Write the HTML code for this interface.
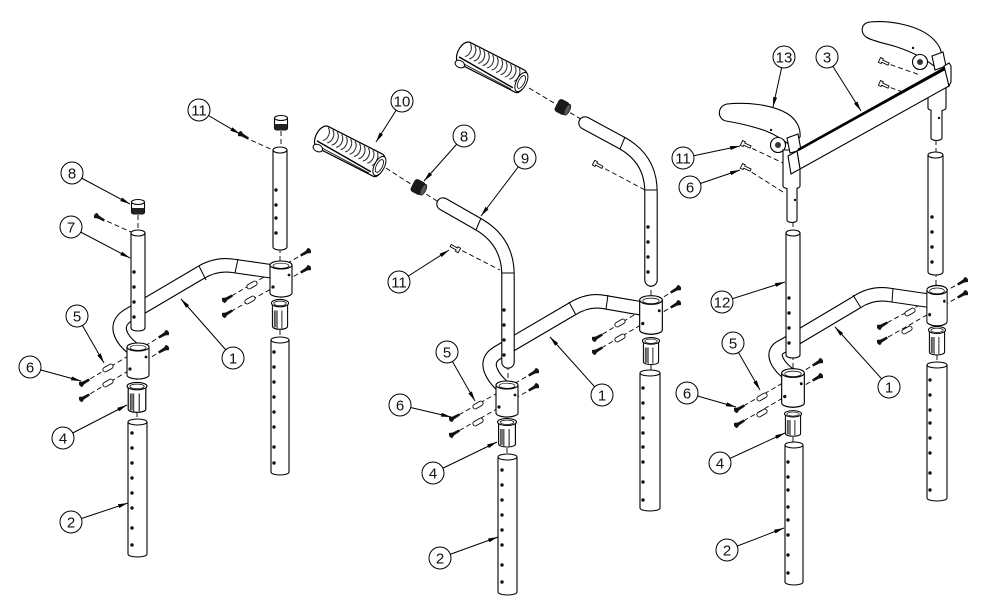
<!DOCTYPE html>
<html><head><meta charset="utf-8"><style>
html,body{margin:0;padding:0;background:#fff;}
svg{display:block;}
text{font-family:"Liberation Sans",sans-serif;font-size:15px;text-anchor:middle;fill:#111;}
.t{fill:#fff;stroke:#000;stroke-width:1.1;}
.d{fill:none;stroke:#000;stroke-width:0.9;stroke-dasharray:5,3;}
.l{fill:none;stroke:#000;stroke-width:1;marker-end:url(#ah);}
.c{fill:#fff;stroke:#000;stroke-width:1;}
.h{fill:#111;}
</style></head><body>
<svg width="1000" height="615" viewBox="0 0 1000 615" xmlns="http://www.w3.org/2000/svg">
<defs>
<marker id="ah" viewBox="0 0 10 4" refX="10" refY="2" markerWidth="10" markerHeight="4" orient="auto" markerUnits="userSpaceOnUse"><path d="M0,0L10,2L0,4z"/></marker>
<g id="grip">
 <path d="M-30,-12 L30,-12 C39,-12 40,12 32,12 L-30,12 C-40,12 -40,-12 -30,-12Z" fill="#fff" stroke="#000" stroke-width="1.2"/>
 <g fill="none" stroke="#333" stroke-width="1.1">
  <path d="M-30,-11 C-25,-8 -25,0 -29,3"/><path d="M-25,-11 C-20,-8 -20,0 -24,3"/>
  <path d="M-20,-11 C-15,-8 -15,0 -19,3"/><path d="M-15,-11 C-10,-8 -10,0 -14,3"/>
  <path d="M-10,-11 C-5,-8 -5,0 -9,3"/><path d="M-5,-11 C0,-8 0,0 -4,3"/>
  <path d="M0,-11 C5,-8 5,0 1,3"/><path d="M5,-11 C10,-8 10,0 6,3"/>
  <path d="M10,-11 C15,-8 15,0 11,3"/><path d="M15,-11 C20,-8 20,0 16,3"/>
  <path d="M20,-11 C25,-8 25,0 21,3"/><path d="M25,-11 C29,-8 29,0 26,3"/>
 </g>
 <path d="M-34,6 L28,9" stroke="#000" stroke-width="1.4"/>
 <path d="M-30,10 L27,11" stroke="#000" stroke-width="0.8"/>
 <ellipse cx="33" cy="0" rx="5" ry="10.5" fill="#fff" stroke="#000"/>
 <ellipse cx="33" cy="0" rx="3" ry="7" fill="none" stroke="#000" stroke-width="0.8"/>
 <ellipse cx="-30" cy="12" rx="5" ry="3.5" fill="#fff" stroke="#000"/>
</g>
<g id="nut"><rect x="-6" y="-7" width="12" height="14" rx="3" fill="#1a1a1a"/><ellipse cx="6" cy="0" rx="2.5" ry="6" fill="#555" stroke="#000" stroke-width="0.6"/></g>
<g id="sock">
 <path d="M-11,0 V28 A11,4 0 0 0 11,28 V0" class="t"/>
 <ellipse cx="0" cy="0" rx="11" ry="4" class="t"/>
 <ellipse cx="0" cy="0.8" rx="8" ry="2.6" fill="none" stroke="#000" stroke-width="0.7"/>
 <circle cx="-8" cy="22" r="1.6" class="h"/><circle cx="8" cy="10" r="1.4" class="h"/>
</g>
<g id="ins">
 <path d="M-8,3 V24 A8,3 0 0 0 8,24 V3" class="t"/>
 <ellipse cx="0" cy="2" rx="9" ry="3.5" class="t"/>
 <ellipse cx="0" cy="2.3" rx="6.5" ry="2.2" fill="none" stroke="#000" stroke-width="0.7"/>
 <path d="M-6,9 V25 M-3,9 V26 M2,9 V26" stroke="#000" stroke-width="0.9"/>
 <rect x="-6" y="9" width="3" height="16" fill="#777"/>
</g>
<g id="cap">
 <rect x="-6.5" y="-6" width="13" height="12" rx="2" class="t"/>
 <ellipse cx="0" cy="-6" rx="6.5" ry="2.5" class="t"/>
 <path d="M-6.5,0 V4 A6.5,2.5 0 0 0 6.5,4 V0 Z" fill="#222"/>
</g>
<g id="scr"><path d="M-5,-3 C-7,-1 -7,1 -5,3 L-2,1.6 L5,1.2 L5,-1.2 L-2,-1.6 Z" fill="#111"/></g>
<g id="wscr"><path d="M-5,-2.6 L-2,-2.6 L-2,-1.2 L5,-1.2 L5,1.2 L-2,1.2 L-2,2.6 L-5,2.6 Z" fill="#fff" stroke="#000" stroke-width="0.9"/></g>
<g id="pin"><rect x="-5.5" y="-2.3" width="11" height="4.6" rx="2.2" fill="#fff" stroke="#000" stroke-width="0.9"/></g>
</defs>

<g class="d">
<path d="M244,137 L275,151 M100,218 L131,232 M281,131 V148 M280,248 V262 M281,293 V300 M280,330 V338 M138,215 V231 M137,375 V383 M137,412 V420"/>
<path d="M163,335 L85,382 M163,350 L85,397 M305,253 L228,298 M305,270 L228,313"/>
<path d="M386,168 L440,203 M455,247 L500,270 M529,88 L584,121 M598,165 L645,190 M651,282 V298 M507,413 V420 M507,448 V455 M651,330 V338 M651,365 V371 M508,365 V383"/>
<path d="M533,373 L455,417 M533,388 L455,433 M675,290 L598,337 M675,305 L598,350"/>
<path d="M745,145 L783,163 M745,168 L783,192 M883,62 L920,75 M883,85 L926,100 M793,222 V231 M936,140 V152 M793,355 V371 M936,272 V288 M793,403 V411 M793,437 V443 M937,322 V327 M937,355 V363"/>
<path d="M817,363 L740,408 M817,378 L740,423 M962,282 L883,325 M962,295 L883,340"/>
</g>

<g fill="none" stroke-linecap="round" stroke-linejoin="round">
<path d="M138,352 C122,342 112,326 127,316 L200,273 Q216,263 234,266 L276,272" stroke="#000" stroke-width="14.5"/>
<path d="M138,352 C122,342 112,326 127,316 L200,273 Q216,263 234,266 L276,272" stroke="#fff" stroke-width="12.3"/>
<path d="M507,390 C492,378 482,362 497,353 L572,309 Q588,299 604,302 L645,309" stroke="#000" stroke-width="14.5"/>
<path d="M507,390 C492,378 482,362 497,353 L572,309 Q588,299 604,302 L645,309" stroke="#fff" stroke-width="12.3"/>
<path d="M793,377 C778,367 768,352 783,346 L857,302 Q872,292 890,295 L931,301" stroke="#000" stroke-width="14.5"/>
<path d="M793,377 C778,367 768,352 783,346 L857,302 Q872,292 890,295 L931,301" stroke="#fff" stroke-width="12.3"/>
<path d="M443,204 L478,224 Q508,241 508,275 L508,362" stroke="#000" stroke-width="13.5"/>
<path d="M443,204 L478,224 Q508,241 508,275 L508,362" stroke="#fff" stroke-width="11.3"/>
<path d="M585,123 L622,143 Q651,159 651,192 L651,280" stroke="#000" stroke-width="13.5"/>
<path d="M585,123 L622,143 Q651,159 651,192 L651,280" stroke="#fff" stroke-width="11.3"/>
</g>
<g stroke="#000" stroke-width="1">
<path d="M199,266 L206,280 M238,259 L235,273"/>
<path d="M569,302 L576,315 M608,295 L606,309"/>
<path d="M853,295 L861,308 M893,288 L892,302"/>
<path d="M481,218 L476,230 M502,273 L514,273"/>
<path d="M625,137 L620,149 M645,190 L657,190"/>
</g>

<path d="M273,150 V247 A7,3 0 0 0 287,247 V150" class="t"/><ellipse cx="280" cy="150" rx="7" ry="3" class="t"/>
<path d="M131,233 V328 A7,3 0 0 0 145,328 V233" class="t"/><ellipse cx="138" cy="233" rx="7" ry="3" class="t"/>
<path d="M128,422 V554 A9.5,3 0 0 0 147,554 V422" class="t"/><ellipse cx="137.5" cy="422" rx="9.5" ry="3" class="t"/>
<path d="M271,340 V472 A9,3 0 0 0 289,472 V340" class="t"/><ellipse cx="280" cy="340" rx="9" ry="3" class="t"/>
<path d="M498,457 V592 A9.5,3 0 0 0 517,592 V457" class="t"/><ellipse cx="507.5" cy="457" rx="9.5" ry="3" class="t"/>
<path d="M640,373 V508 A10,3 0 0 0 660,508 V373" class="t"/><ellipse cx="650" cy="373" rx="10" ry="3" class="t"/>
<path d="M786,233 V355 A7,3 0 0 0 800,355 V233" class="t"/><ellipse cx="793" cy="233" rx="7" ry="3" class="t"/>
<path d="M928,155 V272 A7.5,3 0 0 0 943,272 V155" class="t"/><ellipse cx="935.5" cy="155" rx="7.5" ry="3" class="t"/>
<path d="M785,445 V582 A9,3 0 0 0 803,582 V445" class="t"/><ellipse cx="794" cy="445" rx="9" ry="3" class="t"/>
<path d="M927,365 V498 A10,3 0 0 0 947,498 V365" class="t"/><ellipse cx="937" cy="365" rx="10" ry="3" class="t"/>

<g class="h">
<circle cx="276" cy="190" r="1.7"/><circle cx="276" cy="205" r="1.7"/><circle cx="276" cy="218" r="1.7"/><circle cx="276" cy="233" r="1.7"/>
<circle cx="134" cy="272" r="1.7"/><circle cx="134" cy="287" r="1.7"/><circle cx="134" cy="302" r="1.7"/><circle cx="134" cy="317" r="1.7"/>
<circle cx="132" cy="433" r="1.7"/><circle cx="132" cy="448" r="1.7"/><circle cx="132" cy="463" r="1.7"/><circle cx="132" cy="478" r="1.7"/><circle cx="132" cy="493" r="1.7"/><circle cx="132" cy="508" r="1.7"/><circle cx="132" cy="528" r="1.7"/><circle cx="132" cy="545" r="1.7"/>
<circle cx="274" cy="352" r="1.7"/><circle cx="274" cy="367" r="1.7"/><circle cx="274" cy="382" r="1.7"/><circle cx="274" cy="397" r="1.7"/><circle cx="274" cy="412" r="1.7"/><circle cx="274" cy="427" r="1.7"/><circle cx="274" cy="447" r="1.7"/><circle cx="274" cy="463" r="1.7"/>
<circle cx="504" cy="310" r="1.7"/><circle cx="504" cy="325" r="1.7"/><circle cx="504" cy="340" r="1.7"/><circle cx="504" cy="355" r="1.7"/>
<circle cx="502" cy="470" r="1.7"/><circle cx="502" cy="485" r="1.7"/><circle cx="502" cy="500" r="1.7"/><circle cx="502" cy="515" r="1.7"/><circle cx="502" cy="530" r="1.7"/><circle cx="502" cy="545" r="1.7"/><circle cx="502" cy="565" r="1.7"/><circle cx="502" cy="582" r="1.7"/>
<circle cx="643" cy="388" r="1.7"/><circle cx="643" cy="403" r="1.7"/><circle cx="643" cy="418" r="1.7"/><circle cx="643" cy="433" r="1.7"/><circle cx="643" cy="447" r="1.7"/><circle cx="643" cy="462" r="1.7"/><circle cx="643" cy="482" r="1.7"/><circle cx="643" cy="500" r="1.7"/>
<circle cx="648" cy="227" r="1.7"/><circle cx="648" cy="242" r="1.7"/><circle cx="648" cy="257" r="1.7"/><circle cx="648" cy="272" r="1.7"/>
<circle cx="789" cy="298" r="1.7"/><circle cx="789" cy="313" r="1.7"/><circle cx="789" cy="328" r="1.7"/><circle cx="789" cy="343" r="1.7"/>
<circle cx="932" cy="217" r="1.7"/><circle cx="932" cy="232" r="1.7"/><circle cx="932" cy="247" r="1.7"/><circle cx="932" cy="262" r="1.7"/>
<circle cx="788" cy="462" r="1.7"/><circle cx="788" cy="477" r="1.7"/><circle cx="788" cy="490" r="1.7"/><circle cx="788" cy="507" r="1.7"/><circle cx="788" cy="520" r="1.7"/><circle cx="788" cy="535" r="1.7"/><circle cx="788" cy="555" r="1.7"/><circle cx="788" cy="573" r="1.7"/>
<circle cx="930" cy="380" r="1.7"/><circle cx="930" cy="395" r="1.7"/><circle cx="930" cy="410" r="1.7"/><circle cx="930" cy="423" r="1.7"/><circle cx="930" cy="438" r="1.7"/><circle cx="930" cy="453" r="1.7"/><circle cx="930" cy="473" r="1.7"/><circle cx="930" cy="490" r="1.7"/>
</g>

<use href="#sock" transform="translate(138,347)"/>
<use href="#sock" transform="translate(281,265)"/>
<use href="#sock" transform="translate(507,385)"/>
<use href="#sock" transform="translate(651,300) scale(1.03,1.07)"/>
<use href="#sock" transform="translate(793,373) scale(1.03,1.07)"/>
<use href="#sock" transform="translate(937,290) scale(0.92,1.12)"/>
<use href="#ins" transform="translate(137,384) scale(1.1,1.05)"/>
<use href="#ins" transform="translate(280,301) scale(0.95,1.05)"/>
<use href="#ins" transform="translate(507,420) scale(1.05,1)"/>
<use href="#ins" transform="translate(651,339) scale(0.95,0.95)"/>
<use href="#ins" transform="translate(793,412) scale(0.95,0.9)"/>
<use href="#ins" transform="translate(937,328) scale(0.95,1)"/>

<use href="#cap" transform="translate(281,124)"/>
<use href="#cap" transform="translate(138,208)"/>

<use href="#grip" transform="translate(350,151) rotate(27)"/>
<use href="#grip" transform="translate(492,67) rotate(27)"/>
<use href="#nut" transform="translate(418,187) rotate(27)"/>
<use href="#nut" transform="translate(562,107) rotate(27)"/>

<path d="M870,22 C892,20 918,26 931,37 C939,44 943,52 941,58 L934,66 C924,58 912,52 897,47 C884,43 872,41 866,37 C860,32 861,23 870,22 Z" class="t"/>
<circle cx="920" cy="62" r="7.5" class="t"/><circle cx="920" cy="62" r="3" fill="#333"/><circle cx="913" cy="48" r="1.2" class="h"/>
<path d="M928,88 V108 A9,3 0 0 0 946,108 V88 Z" class="t"/>
<path d="M931,110 V138 A5.5,2.5 0 0 0 942,138 V110" class="t"/><circle cx="939" cy="118" r="1.2" class="h"/>
<path d="M727,104 C745,102 772,104 788,114 C797,120 801,129 800,137 L792,147 C784,140 776,135 766,131 C752,126 738,123 726,121 C717,119 717,106 727,104 Z" class="t"/>
<circle cx="778" cy="145" r="7.5" class="t"/><circle cx="778" cy="145" r="3" fill="#333"/><circle cx="771" cy="130" r="1.2" class="h"/>
<path d="M783,150 V186 A8.5,3 0 0 0 800,186 V150 Z" class="t"/>
<path d="M787,188 V220 A5,2.5 0 0 0 797,220 V188" class="t"/><circle cx="795" cy="200" r="1.2" class="h"/>
<polygon points="787,138 798,134 801,150 790,153" class="t"/>
<polygon points="932,56 943,52 946,66 935,70" class="t"/>
<polygon points="797,151 946,69 949,86 800,169" class="t"/>
<path d="M798,150 L945,68" stroke="#000" stroke-width="2.6"/>
<polygon points="788,156 797,151 800,169 791,174" class="t"/>
<polygon points="944,66 949,63 951,66 951,82 949,86" class="t"/>

<use href="#scr" transform="translate(244,136) rotate(30)"/>
<use href="#scr" transform="translate(100,218) rotate(30)"/>
<use href="#wscr" transform="translate(455,248) rotate(-150)"/>
<use href="#wscr" transform="translate(598,165) rotate(28)"/>
<use href="#wscr" transform="translate(746,145) rotate(25)"/>
<use href="#wscr" transform="translate(746,168) rotate(25)"/>
<use href="#wscr" transform="translate(884,62) rotate(25)"/>
<use href="#wscr" transform="translate(884,85) rotate(25)"/>
<g>
<use href="#scr" transform="translate(85,382) rotate(-30)"/><use href="#scr" transform="translate(85,397) rotate(-30)"/>
<use href="#scr" transform="translate(163,335) rotate(150)"/><use href="#scr" transform="translate(163,350) rotate(150)"/>
<use href="#scr" transform="translate(228,298) rotate(-30)"/><use href="#scr" transform="translate(228,313) rotate(-30)"/>
<use href="#scr" transform="translate(305,253) rotate(150)"/><use href="#scr" transform="translate(305,270) rotate(150)"/>
<use href="#scr" transform="translate(455,417) rotate(-30)"/><use href="#scr" transform="translate(455,433) rotate(-30)"/>
<use href="#scr" transform="translate(533,373) rotate(150)"/><use href="#scr" transform="translate(533,388) rotate(150)"/>
<use href="#scr" transform="translate(598,337) rotate(-30)"/><use href="#scr" transform="translate(598,350) rotate(-30)"/>
<use href="#scr" transform="translate(675,290) rotate(150)"/><use href="#scr" transform="translate(675,305) rotate(150)"/>
<use href="#scr" transform="translate(740,408) rotate(-30)"/><use href="#scr" transform="translate(740,423) rotate(-30)"/>
<use href="#scr" transform="translate(817,363) rotate(150)"/><use href="#scr" transform="translate(817,378) rotate(150)"/>
<use href="#scr" transform="translate(883,325) rotate(-30)"/><use href="#scr" transform="translate(883,340) rotate(-30)"/>
<use href="#scr" transform="translate(962,282) rotate(150)"/><use href="#scr" transform="translate(962,295) rotate(150)"/>
</g>
<g>
<use href="#pin" transform="translate(108,368) rotate(-30)"/><use href="#pin" transform="translate(108,383) rotate(-30)"/>
<use href="#pin" transform="translate(252,285) rotate(-30)"/><use href="#pin" transform="translate(250,300) rotate(-30)"/>
<use href="#pin" transform="translate(478,405) rotate(-30)"/><use href="#pin" transform="translate(478,422) rotate(-30)"/>
<use href="#pin" transform="translate(620,323) rotate(-30)"/><use href="#pin" transform="translate(620,338) rotate(-30)"/>
<use href="#pin" transform="translate(762,397) rotate(-30)"/><use href="#pin" transform="translate(762,413) rotate(-30)"/>
<use href="#pin" transform="translate(910,312) rotate(-30)"/><use href="#pin" transform="translate(907,330) rotate(-30)"/>
</g>

<g>
<line x1="199" y1="110" x2="240" y2="134" class="l"/>
<line x1="72" y1="173" x2="130" y2="204" class="l"/>
<line x1="71" y1="227" x2="130" y2="258" class="l"/>
<line x1="77" y1="316" x2="104" y2="363" class="l"/>
<line x1="30" y1="367" x2="81" y2="381" class="l"/>
<line x1="63" y1="438" x2="127" y2="405" class="l"/>
<line x1="71" y1="522" x2="128" y2="503" class="l"/>
<line x1="233" y1="358" x2="181" y2="299" class="l"/>
<line x1="402" y1="101" x2="376" y2="142" class="l"/>
<line x1="464" y1="136" x2="424" y2="181" class="l"/>
<line x1="525" y1="158" x2="481" y2="216" class="l"/>
<line x1="399" y1="282" x2="449" y2="250" class="l"/>
<line x1="447" y1="352" x2="475" y2="401" class="l"/>
<line x1="400" y1="405" x2="451" y2="417" class="l"/>
<line x1="433" y1="473" x2="497" y2="442" class="l"/>
<line x1="440" y1="558" x2="498" y2="537" class="l"/>
<line x1="602" y1="395" x2="550" y2="337" class="l"/>
<line x1="784" y1="57" x2="773" y2="107" class="l"/>
<line x1="827" y1="57" x2="861" y2="111" class="l"/>
<line x1="683" y1="158" x2="740" y2="146" class="l"/>
<line x1="690" y1="187" x2="740" y2="170" class="l"/>
<line x1="722" y1="302" x2="785" y2="282" class="l"/>
<line x1="733" y1="343" x2="760" y2="390" class="l"/>
<line x1="687" y1="393" x2="736" y2="407" class="l"/>
<line x1="720" y1="463" x2="785" y2="433" class="l"/>
<line x1="727" y1="550" x2="784" y2="528" class="l"/>
<line x1="889" y1="387" x2="835" y2="327" class="l"/>
</g>

<g>
<circle cx="199" cy="110" r="11" class="c"/><text x="199" y="115.5">11</text>
<circle cx="72" cy="173" r="11" class="c"/><text x="72" y="178.5">8</text>
<circle cx="71" cy="227" r="11" class="c"/><text x="71" y="232.5">7</text>
<circle cx="77" cy="316" r="11" class="c"/><text x="77" y="321.5">5</text>
<circle cx="30" cy="367" r="11" class="c"/><text x="30" y="372.5">6</text>
<circle cx="63" cy="438" r="11" class="c"/><text x="63" y="443.5">4</text>
<circle cx="71" cy="522" r="11" class="c"/><text x="71" y="527.5">2</text>
<circle cx="233" cy="358" r="11" class="c"/><text x="233" y="363.5">1</text>
<circle cx="402" cy="101" r="11" class="c"/><text x="402" y="106.5">10</text>
<circle cx="464" cy="136" r="11" class="c"/><text x="464" y="141.5">8</text>
<circle cx="525" cy="158" r="11" class="c"/><text x="525" y="163.5">9</text>
<circle cx="399" cy="282" r="11" class="c"/><text x="399" y="287.5">11</text>
<circle cx="447" cy="352" r="11" class="c"/><text x="447" y="357.5">5</text>
<circle cx="400" cy="405" r="11" class="c"/><text x="400" y="410.5">6</text>
<circle cx="433" cy="473" r="11" class="c"/><text x="433" y="478.5">4</text>
<circle cx="440" cy="558" r="11" class="c"/><text x="440" y="563.5">2</text>
<circle cx="602" cy="395" r="11" class="c"/><text x="602" y="400.5">1</text>
<circle cx="784" cy="57" r="11" class="c"/><text x="784" y="62.5">13</text>
<circle cx="827" cy="57" r="11" class="c"/><text x="827" y="62.5">3</text>
<circle cx="683" cy="158" r="11" class="c"/><text x="683" y="163.5">11</text>
<circle cx="690" cy="187" r="11" class="c"/><text x="690" y="192.5">6</text>
<circle cx="722" cy="302" r="11" class="c"/><text x="722" y="307.5">12</text>
<circle cx="733" cy="343" r="11" class="c"/><text x="733" y="348.5">5</text>
<circle cx="687" cy="393" r="11" class="c"/><text x="687" y="398.5">6</text>
<circle cx="720" cy="463" r="11" class="c"/><text x="720" y="468.5">4</text>
<circle cx="727" cy="550" r="11" class="c"/><text x="727" y="555.5">2</text>
<circle cx="889" cy="387" r="11" class="c"/><text x="889" y="392.5">1</text>
</g>
</svg>
</body></html>
